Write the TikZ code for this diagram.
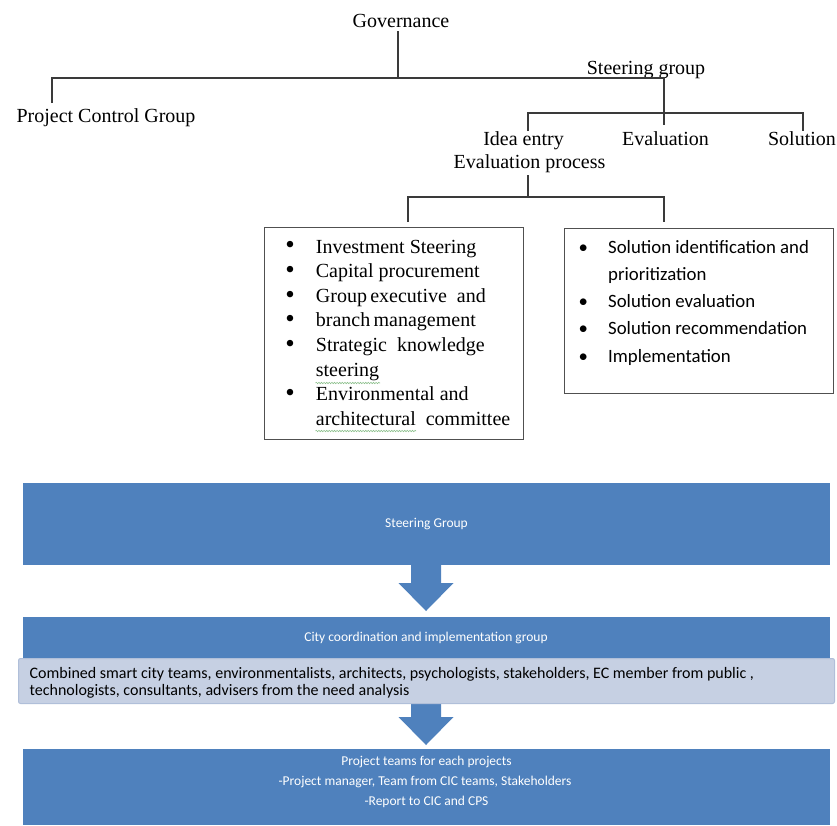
\documentclass[tikz,border=0pt]{standalone}
\usepackage{fontspec}
\usepackage{graphicx}
\setmainfont{Liberation Serif}
\newfontfamily\calib{Carlito}
\usetikzlibrary{decorations.pathmorphing}
\definecolor{bblue}{HTML}{4F81BD}
\definecolor{lblue}{HTML}{C6D0E3}
\definecolor{lbord}{HTML}{B0BFD9}
\definecolor{lnc}{HTML}{3A3A3A}
\definecolor{boxc}{HTML}{505050}
\definecolor{squig}{HTML}{8CC08C}
\newcommand\lbul{\llap{\makebox[51.4pt]{\raisebox{-0.9pt}{\scalebox{1.35}{•}}}}}
\newcommand\rbul{\llap{\makebox[50pt]{•}}}
\begin{document}
\begin{tikzpicture}[x=1pt,y=-1pt,
  toplbl/.style={font=\fontsize{20}{24}\selectfont, inner sep=0pt, anchor=base},
  conn/.style={draw=lnc, line width=1.1pt},
  lline/.style={font=\fontsize{20}{24}\selectfont, inner sep=0pt, anchor=base west},
  rline/.style={font=\calib\fontsize{18.8}{22}\selectfont, inner sep=0pt, anchor=base west},
  listbox/.style={draw=boxc, line width=1pt, inner sep=0pt, anchor=north west},
  bluebox/.style={fill=bblue, draw=none, inner sep=0pt, anchor=north west, minimum width=807pt},
  wtext/.style={font=\calib\fontsize{13.5}{16}\selectfont, text=white, inner sep=0pt, anchor=base},
  btext/.style={font=\calib\fontsize{16}{19}\selectfont, text=black, inner sep=0pt, anchor=base west},
  flowarrow/.pic={\fill[bblue] (-15,0) -- (15,0) -- (15,#1) -- (27.5,#1) -- (0,#1+28) -- (-27.5,#1) -- (-15,#1) -- cycle;},
  squiggle/.style={draw=squig, line width=0.6pt, decorate, decoration={snake, amplitude=0.7pt, segment length=2.6pt}}
]
\useasboundingbox (0,0) rectangle (837,825);

% ---- top tree ----
\node[toplbl] (gov) at (401,27) {Governance};
\node[toplbl] (pcg) at (106,122) {Project Control Group};
\node[toplbl] (sg) at (646,74) {Steering group};
\node[toplbl] (idea) at (523.5,145) {Idea entry};
\node[toplbl] (eval) at (665.5,145) {Evaluation};
\node[toplbl] (sol) at (802,145) {Solution};
\node[toplbl] (evp) at (529.5,168) {Evaluation process};

\coordinate (gtop) at (398,31);
\coordinate (gj) at (398,78);
\coordinate (pcgt) at (52,103);
\coordinate (sgj) at (664,78);
\coordinate (sgb) at (664,125);
\draw[conn] (gtop) -- (gj);
\draw[conn] (pcgt) |- (sgj) -- (sgb);

\coordinate (ia) at (528,131);
\coordinate (soa) at (803,131);
\coordinate (hj) at (664,113);
\draw[conn] (ia) |- (hj) -| (soa);

\coordinate (et) at (528,175);
\coordinate (ej) at (528,197);
\coordinate (lb) at (408,222);
\coordinate (rb) at (664,222);
\draw[conn] (et) -- (ej);
\draw[conn] (lb) |- (ej) -| (rb);

% ---- list boxes ----
\node[listbox, minimum width=259pt, minimum height=212pt] (lbox) at (264,227) {};
\node[lline] (l1) at (315.7,253) {\lbul Investment Steering};
\node[lline] (l2) at (315.7,277.6) {\lbul Capital procurement};
\node[lline] (l3) at (315.7,302.2) {\lbul Group\,executive\ \ and};
\node[lline] (l4) at (315.7,326.8) {\lbul branch\,management};
\node[lline] (l5) at (315.7,351.4) {\lbul Strategic\ \ knowledge};
\node[lline] (l6) at (315.7,376) {steering};
\node[lline] (l7) at (315.7,400.6) {\lbul Environmental and};
\node[lline] (l8) at (315.7,425.2) {architectural\ \ committee};
\draw[squiggle] (315.5,383) -- (380,383);
\draw[squiggle] (315.5,431) -- (416,431);

\node[listbox, minimum width=269pt, minimum height=165pt] (rbox) at (564,228) {};
\node[rline] (r1) at (608,253) {\rbul Solution identification and};
\node[rline] (r2) at (608,280.25) {prioritization};
\node[rline] (r3) at (608,307.5) {\rbul Solution evaluation};
\node[rline] (r4) at (608,334.75) {\rbul Solution recommendation};
\node[rline] (r5) at (608,362) {\rbul Implementation};

% ---- blue flow ----
\node[bluebox, minimum height=82pt] (b1) at (23,483) {};
\node[wtext] (b1t) at (426.5,527) {Steering Group};
\pic (a1) at (426,565) {flowarrow=18};

\node[bluebox, minimum height=48pt] (b2) at (23,617) {};
\node[wtext] (b2t) at (426,641.7) {City coordination and implementation group};
\pic (a2) at (426,690) {flowarrow=27};

\node[draw=lbord, fill=lblue, rounded corners=2pt, minimum width=816pt, minimum height=45pt, inner sep=0pt, anchor=north west, line width=1pt] (lt) at (18,658) {};
\node[btext] (lt1) at (29.5,678) {Combined smart city teams, environmentalists, architects, psychologists, stakeholders, EC member from public ,};
\node[btext] (lt2) at (29.5,695) {technologists, consultants, advisers from the need analysis};

\node[bluebox, minimum height=76pt] (b3) at (23,749) {};
\node[wtext] (b3a) at (426.5,765) {Project teams for each projects};
\node[wtext] (b3b) at (425,785) {-Project manager, Team from CIC teams, Stakeholders};
\node[wtext] (b3c) at (426.5,805) {-Report to CIC and CPS};
\end{tikzpicture}
\end{document}
